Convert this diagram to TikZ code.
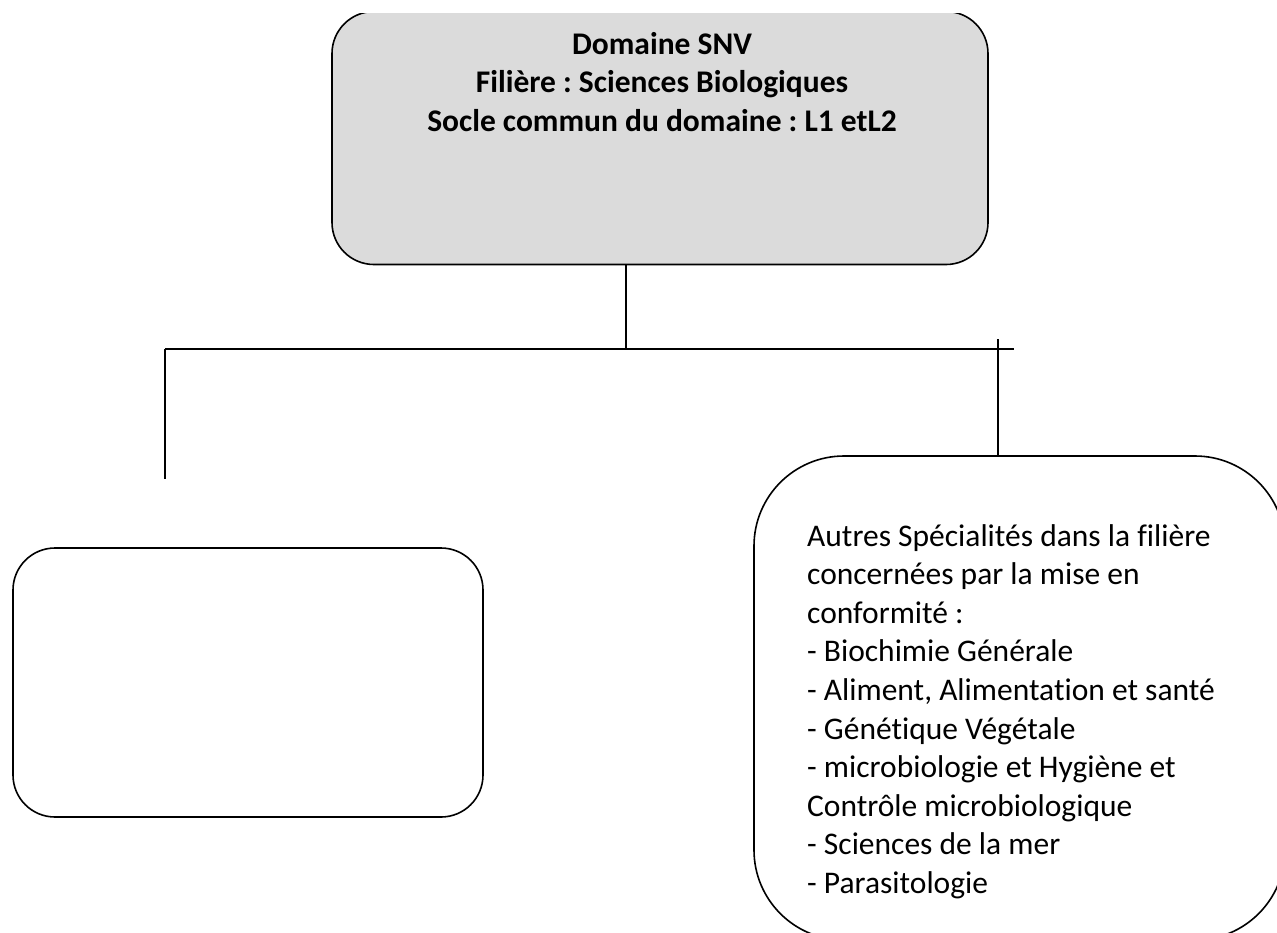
\documentclass[tikz,border=0pt]{standalone}
\usepackage{fontspec}
\setmainfont{Carlito}[Ligatures=NoCommon]
\frenchspacing
\definecolor{boxgray}{HTML}{DBDBDB}
\tikzset{
  conn/.style={line width=1.6pt, black},
  boxline/.style={draw=black, line width=1.6pt, rectangle, inner sep=0pt},
  bigtxt/.style={inner sep=0pt, font=\fontsize{31.5}{38.6}\selectfont}
}
\begin{document}
\begin{tikzpicture}[x=1pt,y=-1pt]
\useasboundingbox (0,0) rectangle (1277,932);
\begin{scope}
\clip (0,13.5) rectangle (1277,932);
% top box
\node[boxline, fill=boxgray, rounded corners=42pt, minimum width=656pt, minimum height=253pt] (top) at (660,138) {};
\node[bigtxt, anchor=north, align=center, font=\fontsize{31.5}{38.6}\selectfont\bfseries] (toptxt) at (662,32)
  {Domaine SNV\\Filière : Sciences Biologiques\\Socle commun du domaine : L1 etL2};
% left box
\node[boxline, rounded corners=42pt, minimum width=470pt, minimum height=269pt] (left) at (248,682.5) {};
% right box
\node[boxline, rounded corners=90pt, minimum width=531pt, minimum height=484pt] (right) at (1019.5,698) {};
\node[bigtxt, anchor=north west, align=left] (righttxt) at (807,524)
  {Autres Spécialités dans la filière\\concernées par la mise en\\conformité :\\- Biochimie Générale\\- Aliment, Alimentation et santé\\- Génétique Végétale\\- microbiologie et Hygiène et\\Contrôle microbiologique\\- Sciences de la mer\\- Parasitologie};
% connectors
\coordinate (ctop) at (626,264);
\coordinate (hl) at (165,349);
\coordinate (hr) at (1014,349);
\coordinate (lend) at (165,479);
\coordinate (rtop) at (998,339);
\draw[conn] (ctop) -- (ctop |- hl);
\draw[conn] (hl) -- (hr);
\draw[conn] (hl) -- (lend);
\draw[conn] (rtop) -- (right.north -| rtop);
\end{scope}
\end{tikzpicture}
\end{document}
